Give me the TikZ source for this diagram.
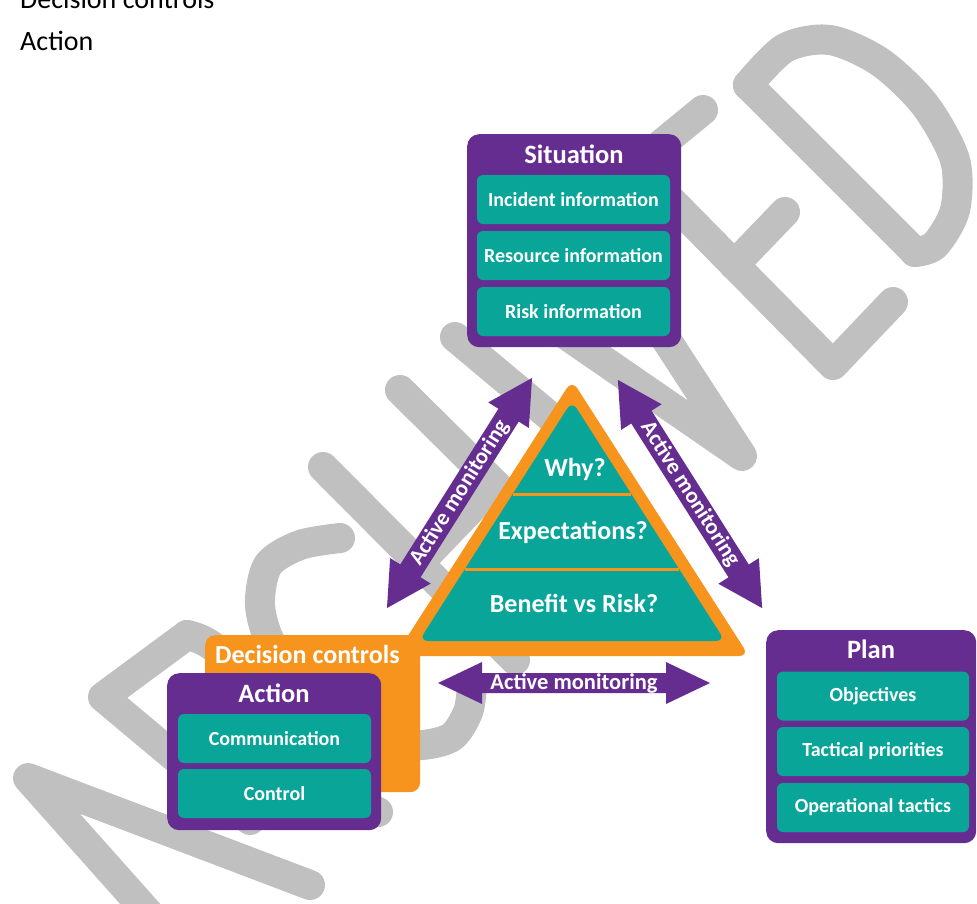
\documentclass[tikz,border=0pt]{standalone}
\usepackage{fontspec}
\setmainfont{Carlito}
\definecolor{cmpurple}{RGB}{102,45,145}
\definecolor{cmteal}{RGB}{10,165,153}
\definecolor{cmorange}{RGB}{247,148,30}
\definecolor{cmgrey}{RGB}{192,192,192}
\tikzset{
  panel/.style={fill=cmpurple, rounded corners=12pt, inner sep=0pt},
  item/.style={fill=cmteal, rounded corners=6pt, text=white, inner sep=0pt,
    font=\fontsize{20}{22}\selectfont\bfseries},
  paneltitle/.style={text=white, inner sep=0pt, font=\fontsize{26.5}{29}\selectfont\bfseries},
  tritext/.style={text=white, inner sep=0pt, font=\fontsize{26}{30}\selectfont\bfseries},
  montext/.style={text=white, inner sep=0pt, font=\fontsize{22.5}{24}\selectfont\bfseries},
  plaintext/.style={text=black, inner sep=0pt, font=\fontsize{28}{32}\selectfont},
  wm/.style={draw=cmgrey, line width=30pt, line cap=round, line join=round},
  pics/monarrow/.style n args={3}{code={
    \fill[cmpurple] (-#1,0) -- (-#1+44,#3) -- (-#1+44,#2) -- (#1-44,#2) -- (#1-44,#3)
      -- (#1,0) -- (#1-44,-#3) -- (#1-44,-#2) -- (-#1+44,-#2) -- (-#1+44,-#3) -- cycle;
  }}
}
\begin{document}
\begin{tikzpicture}[x=1pt,y=-1pt]
\useasboundingbox (0,0) rectangle (977,903);
\clip (0,0) rectangle (977,903);

% large grey lettering behind the diagram
% A
\draw[wm] (150,915) -- (28,778) -- (310,885);
% R
\draw[wm] (187,635) -- (103,697) -- (250,820);
\draw[wm] (187,635) .. controls (235,645) and (255,700) .. (200,740);
\draw[wm] (210,740) -- (378,812);
% C
\draw[wm] plot[smooth] coordinates {(340,538) (300,545) (268,565) (260,605) (272,645) (309,691) (360,728) (410,745) (450,738) (468,712) (472,685)};
% H
\draw[wm] (323,467) -- (515,660);
\draw[wm] (400,390) -- (590,578);
\draw[wm] (419,563) -- (495,484);
% I
\draw[wm] (455,337) -- (590,450);
% V
\draw[wm] (520,303) -- (742,456) -- (600,238);
% E
\draw[wm] (703,110) -- (636,165) -- (833,365) -- (893,302);
\draw[wm] (734,265) -- (785,212);
% D
\draw[wm] (915,252) -- (748,85);
\draw[wm] plot[smooth] coordinates {(748,85) (785,48) (830,40) (880,62) (925,105) (955,160) (955,210) (935,245) (915,252)};

% text lines at the top left
\node[plaintext, anchor=base west] (hdA) at (20,8) {Decision controls};
\node[plaintext, anchor=base west] (hdB) at (20,50) {Action};

% situation panel
\node[panel, minimum width=214, minimum height=213, anchor=north west] (sit) at (467,134) {};
\node[paneltitle, anchor=base] (sitT) at (574,163) {Situation};
\node[item, minimum width=193, minimum height=49] (sit1) at (573.5,199.5) {Incident information};
\node[item, minimum width=193, minimum height=49] (sit2) at (573.5,255.5) {Resource information};
\node[item, minimum width=193, minimum height=49] (sit3) at (573.5,311.5) {Risk information};

% decision controls: orange backing box and triangle
\node[fill=cmorange, rounded corners=10pt, minimum width=215, minimum height=157, anchor=north west, inner sep=0pt] (dc) at (205,635) {};
\fill[cmorange, rounded corners=10pt] (572,380) -- (749,656) -- (395,656) -- cycle;
\fill[cmteal, rounded corners=9pt] (572,401) -- (725,641) -- (419,641) -- cycle;
\draw[cmorange, line width=3pt] (512.7,494) -- (631.3,494);
\draw[cmorange, line width=3pt] (464.9,569) -- (679.1,569);
\node[tritext, anchor=base] (why) at (575,476) {Why?};
\node[tritext, anchor=base] (exp) at (573,539) {Expectations?};
\node[tritext, anchor=base] (ben) at (574,612) {Benefit vs Risk?};
\node[paneltitle, font=\fontsize{26}{28}\selectfont\bfseries, anchor=base west] (dcT) at (215,663) {Decision controls};

% action panel
\node[panel, minimum width=214, minimum height=157, anchor=north west] (act) at (167,673) {};
\node[paneltitle, anchor=base] (actT) at (274,702) {Action};
\node[item, minimum width=193, minimum height=49] (act1) at (274.5,738.5) {Communication};
\node[item, minimum width=193, minimum height=49] (act2) at (274.5,793.5) {Control};

% plan panel
\node[panel, minimum width=210, minimum height=213, anchor=north west] (plan) at (766,630) {};
\node[paneltitle, anchor=base] (planT) at (871,658) {Plan};
\node[item, minimum width=192, minimum height=49] (plan1) at (873,696) {Objectives};
\node[item, minimum width=192, minimum height=49] (plan2) at (873,751.5) {Tactical priorities};
\node[item, minimum width=192, minimum height=49] (plan3) at (873,807.5) {Operational tactics};

% active monitoring arrows
\coordinate (mL) at (459.5,493);
\coordinate (mR) at (690,494);
\coordinate (mB) at (574,683);
\pic[rotate=57.77] at (mL) {monarrow={136}{12}{24}};
\pic[rotate=-57.7] at (mR) {monarrow={135}{12}{24}};
\pic at (mB) {monarrow={136}{10}{21}};
\node[montext, rotate=57.77] (amL) at (mL) {Active monitoring};
\node[montext, rotate=-57.7] (amR) at (mR) {Active monitoring};
\node[montext] (amB) at (mB) {Active monitoring};
\end{tikzpicture}
\end{document}
